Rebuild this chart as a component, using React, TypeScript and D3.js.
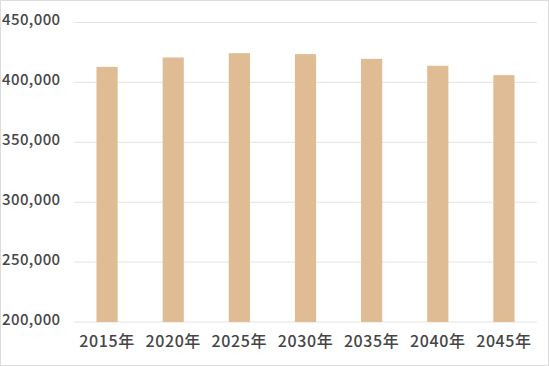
import React from "react";
import * as d3 from "d3";

const years = ["2015年", "2020年", "2025年", "2030年", "2035年", "2040年", "2045年"];
const population = [413000, 420800, 424400, 423600, 419700, 413900, 406100];
const yTicks = [200000, 250000, 300000, 350000, 400000, 450000];

const W = 550;
const H = 366;

const App = () => {
  const margin = { top: 22.5, right: 13, bottom: 44, left: 74 };

  const x = d3
    .scaleBand()
    .domain(years)
    .range([margin.left, W - margin.right])
    .padding(0);

  const y = d3
    .scaleLinear()
    .domain([200000, 450000])
    .range([H - margin.bottom, margin.top]);

  const barW = x.bandwidth() * 0.32;
  const fmt = d3.format(",");

  return (
    <svg
      width={W}
      height={H}
      style={{ position: "absolute", left: 0, top: 0 }}
      fontFamily="'Noto Sans CJK JP', 'Noto Sans', sans-serif"
    >
      <rect x={0} y={0} width={W} height={H} fill="#fff" />
      <rect x={0.5} y={0.5} width={W - 2} height={H - 1} fill="none" stroke="#dcdcdc" />

      {/* grid lines */}
      {yTicks.map((t) => (
        <line
          key={t}
          x1={margin.left}
          x2={W - margin.right}
          y1={y(t)}
          y2={y(t)}
          stroke="#e4e4e4"
          strokeWidth={1}
        />
      ))}

      {/* y labels */}
      {yTicks.map((t) => (
        <text
          key={"l" + t}
          x={2}
          y={y(t) - 1.5}
          dominantBaseline="middle"
          fontSize={15}
          fontWeight={500}
          fill="#454545"
          letterSpacing={0.4}
        >
          {fmt(t)}
        </text>
      ))}

      {/* bars */}
      {years.map((yr, i) => (
        <rect
          key={yr}
          x={(x(yr) as number) + x.bandwidth() / 2 - barW / 2}
          y={y(population[i])}
          width={barW}
          height={y(200000) - y(population[i])}
          fill="#dfbc94"
        />
      ))}

      {/* x labels */}
      {years.map((yr) => (
        <text
          key={"x" + yr}
          x={(x(yr) as number) + x.bandwidth() / 2}
          y={347}
          textAnchor="middle"
          fontSize={16}
          fontWeight={500}
          fill="#454545"
          letterSpacing={0.6}
        >
          {yr}
        </text>
      ))}
    </svg>
  );
};

export default App;
